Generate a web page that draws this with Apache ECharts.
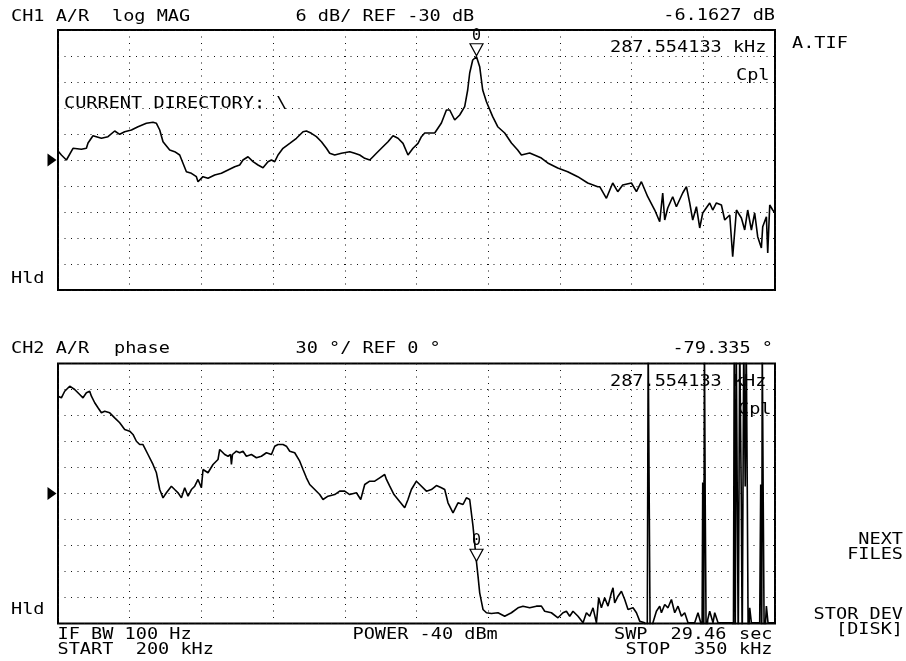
<!DOCTYPE html>
<html>
<head>
<meta charset="utf-8">
<script src="https://cdn.jsdelivr.net/npm/echarts@6/dist/echarts.min.js"></script>
<style>
  html, body { margin: 0; padding: 0; background: #fff; }
  #chart { width: 906px; height: 661px; }
</style>
</head>
<body>
<div id="chart"></div>
<script>
// Sweep: 200 kHz .. 350 kHz, 10 divisions
const startKHz = 200;
const stopKHz = 350;
const divKHz = 15;

// CH1: log magnitude, 6 dB/div, REF -30 dB (10 divisions)
const magRef = -30;
const magScale = 6;
// CH2: phase, 30 deg/div, REF 0 deg
const phaseRef = 0;
const phaseScale = 30;

// Marker 0
const markerKHz = 287.554133;
const markerDb = -6.1627;
const markerDeg = -79.335;

// CH1 trace (kHz, dB)
const magFreq = [200.0,200.71,201.76,203.14,204.90,205.94,206.28,207.32,209.08,210.46,211.86,212.91,213.95,215.36,216.74,218.49,219.87,220.59,221.28,221.97,223.37,224.41,225.46,226.15,226.86,227.91,228.95,229.29,230.33,231.38,232.78,234.18,235.57,236.97,238.01,238.70,239.75,240.80,241.84,242.89,243.93,244.65,245.34,246.03,247.07,248.48,249.88,251.26,251.97,253.01,254.06,255.11,256.15,256.84,257.89,259.29,261.03,262.07,263.12,264.17,265.21,265.90,266.61,267.66,269.04,270.09,271.13,272.18,273.22,274.27,275.32,276.03,276.72,278.81,280.21,281.26,281.95,282.99,284.04,285.08,285.71,286.13,286.76,287.554133,288.22,288.85,289.63,290.94,291.99,293.45,294.86,296.17,296.95,298.68,301.13,302.45,304.54,306.63,308.73,310.82,312.91,313.33,314.73,316.05,317.10,318.14,319.96,321.01,322.05,323.37,324.84,325.88,326.51,326.93,327.56,328.60,329.37,330.69,331.47,332.16,332.79,333.56,334.25,334.88,336.34,336.97,337.74,338.79,339.48,340.53,341.15,341.93,342.97,343.66,344.29,345.06,345.75,346.38,347.15,347.43,348.20,348.48,348.90,349.52,350.0];
const magDb = [-27.92,-28.85,-30.0,-27.3,-27.53,-27.3,-26.08,-24.39,-24.99,-24.62,-23.31,-24.07,-23.47,-23.08,-22.32,-21.53,-21.3,-21.53,-23.08,-25.78,-27.69,-28.08,-28.85,-30.76,-32.7,-33.07,-33.85,-35.01,-33.85,-34.22,-33.46,-33.07,-32.31,-31.55,-31.15,-30.0,-29.24,-30.39,-31.15,-31.78,-30.39,-30.0,-30.39,-28.85,-27.3,-26.15,-24.99,-23.47,-23.31,-23.84,-24.62,-25.78,-27.3,-28.45,-28.85,-28.45,-28.08,-28.45,-28.85,-29.61,-30.0,-29.24,-28.45,-27.3,-25.78,-24.39,-24.99,-26.15,-28.85,-27.3,-26.15,-24.62,-23.77,-23.77,-21.46,-18.46,-18.46,-20.77,-19.62,-17.7,-13.85,-9.92,-6.92,-6.1627,-8.47,-13.85,-16.55,-20.0,-22.32,-23.77,-26.08,-27.69,-28.85,-28.38,-29.54,-30.69,-31.85,-32.7,-33.85,-35.31,-36.16,-36.16,-38.84,-35.31,-37.32,-35.77,-35.31,-37.32,-35.01,-38.47,-41.54,-44.24,-37.62,-43.85,-41.08,-38.47,-40.78,-37.62,-36.16,-39.92,-43.85,-40.78,-45.69,-42.23,-39.92,-41.54,-39.92,-40.38,-43.85,-42.69,-52.32,-41.54,-43.38,-46.15,-41.54,-46.15,-42.23,-47.7,-50.31,-45.39,-43.08,-51.46,-40.38,-41.54,-42.23];

// CH2 trace (kHz, deg); values past +/-150 run off the display
const phaseFreq = [200.0,200.71,201.40,202.45,203.49,204.54,205.23,205.94,206.63,206.99,207.68,208.37,209.08,209.77,210.82,211.86,212.91,213.95,215.00,215.69,216.40,217.09,217.78,218.83,219.87,220.59,221.28,221.97,222.68,223.72,224.41,225.11,225.82,226.51,227.20,227.91,228.60,229.29,230.00,230.34,231.38,232.43,233.47,233.83,234.88,235.57,236.10,236.28,236.50,237.32,238.01,238.70,239.41,240.46,241.51,242.55,243.60,244.65,245.34,246.03,247.07,247.78,248.48,249.52,250.57,251.26,251.97,252.66,253.71,254.75,255.44,256.49,257.89,258.93,259.98,261.03,262.43,263.33,264.17,265.21,266.26,267.30,268.35,268.71,269.40,270.29,271.13,272.53,273.22,273.93,274.98,275.67,277.07,278.12,279.17,280.21,280.90,281.59,282.64,283.68,284.73,285.44,286.13,286.82,287.554133,287.87,288.22,288.91,289.63,290.67,292.05,293.45,294.86,296.24,297.28,298.68,300.08,301.13,301.82,303.22,304.60,305.65,306.36,307.05,307.74,308.79,309.84,310.55,311.24,311.93,312.64,313.12,313.68,314.37,315.06,315.77,316.11,316.46,317.16,317.87,318.56,319.25,320.30,321.01,321.70,322.74,323.27,323.47,323.68,323.89,324.48,325.19,325.88,326.24,326.93,327.62,328.33,328.66,329.02,329.71,330.42,331.11,331.80,333.20,333.89,334.46,334.73,334.88,335.09,335.24,335.40,335.61,335.93,336.34,337.03,337.39,338.08,341.15,341.30,341.47,341.68,341.89,342.10,342.31,342.62,342.94,343.14,343.46,343.77,343.98,344.19,344.40,344.71,345.06,346.80,347.01,347.22,347.33,347.54,347.75,348.20,348.54,350.0];
const phaseDeg = [112.3,110.4,118.0,123.8,120.0,114.2,110.4,116.2,118.0,112.3,104.7,98.9,93.1,95.0,93.1,87.3,81.6,73.8,71.9,68.1,60.3,56.5,56.5,45.0,33.5,23.9,4.6,-5.0,0.8,8.4,4.6,0.8,-5.0,6.6,-3.1,4.6,8.4,16.2,6.6,27.7,23.9,33.5,39.2,50.8,45.0,43.0,45.0,33.5,45.0,48.8,47.0,48.8,43.0,45.0,41.2,43.0,47.0,45.0,54.6,56.5,56.5,54.6,48.8,47.0,37.3,27.7,18.1,10.4,4.6,-1.2,-6.9,-3.1,-1.2,2.7,2.7,-1.2,0.8,-6.9,10.4,14.2,14.2,18.1,21.9,16.2,8.4,-1.2,-6.9,-16.5,-6.9,4.6,14.2,10.4,2.7,4.6,9.2,6.6,4.6,-10.7,-22.3,-10.7,-12.7,-5.0,-6.9,-37.7,-79.335,-95.4,-114.6,-133.8,-137.6,-138.5,-137.6,-141.6,-137.6,-131.9,-130.0,-131.9,-130.0,-130.0,-135.8,-137.6,-143.4,-137.6,-135.8,-141.6,-135.8,-141.6,-149.2,-137.6,-141.6,-131.9,-149.2,-120.3,-131.9,-120.3,-130.0,-114.6,-108.8,-126.1,-118.5,-112.8,-122.3,-133.8,-131.9,-137.6,-147.3,-149.2,-176,177,-3.5,-177,-148.8,-135.8,-130.0,-137.6,-128.1,-131.9,-122.3,-120.3,-137.6,-130.0,-141.6,-137.6,-149.2,-149.2,-137.6,-149.2,-177,12.7,-175,177,-8.9,-178,-145.4,-135.8,-149.2,-137.6,-149.2,-149.2,-178,178,-176,177,4.6,-177,178,-1.2,-178,176,8.1,179,12.7,-177,-131.9,-149.2,-149.2,10.4,-177,178,-10.4,-177,-130.0,-149.2,-149.2];

// Annotation texts
const ch1Title = 'CH1 A/R';
const ch1Format = 'log MAG';
const ch1ScaleText = '6 dB/ REF -30 dB';
const ch1Readout = '-6.1627 dB';
const ch2Title = 'CH2 A/R';
const ch2Format = 'phase';
const ch2ScaleText = '30 °/ REF 0 °';
const ch2Readout = '-79.335 °';
const markerFreqText = '287.554133 kHz';

const zip = (a, b) => a.map((v, i) => [v, b[i]]);

const FONT_FAMILY = '"DejaVu Sans Mono", "Liberation Mono", monospace';
const FONT = '16px ' + FONT_FAMILY;
const SX = 1.16;

function txt(s, x, capTop, align) {
  return {
    type: 'text', x: x, y: capTop - 1.5, scaleX: SX, z: 1,
    style: { text: s, font: FONT, fill: '#000', align: align || 'left', verticalAlign: 'top' }
  };
}

const dotted = { color: '#111', width: 1, type: [1, 5.5] };

function dataX(gi) {
  return { type: 'value', gridIndex: gi, min: startKHz, max: stopKHz,
    axisLine: { show: false }, axisTick: { show: false }, axisLabel: { show: false }, splitLine: { show: false } };
}
function divX(gi) {
  return { type: 'value', gridIndex: gi, min: 0, max: stopKHz - startKHz, interval: divKHz,
    axisLine: { show: false }, axisTick: { show: false }, axisLabel: { show: false },
    splitLine: { show: true, lineStyle: dotted } };
}
function yAx(gi, ref, scale) {
  return { type: 'value', gridIndex: gi, min: ref - 5 * scale, max: ref + 5 * scale, interval: scale,
    axisLine: { show: false }, axisTick: { show: false }, axisLabel: { show: false },
    splitLine: { show: true, lineStyle: dotted } };
}

const markerTriangle = {
  symbol: 'path://M0,0L14,0L7,12Z', symbolSize: [13, 12], symbolOffset: [0, -7],
  itemStyle: { color: '#fff', borderColor: '#000', borderWidth: 1.2 },
  label: { show: true, formatter: '0', position: 'top', distance: 0, color: '#000',
           fontFamily: FONT_FAMILY, fontSize: 15 }
};
const refArrow = {
  symbol: 'triangle', symbolRotate: -90, symbolSize: [13, 9], symbolOffset: [-6, 0],
  itemStyle: { color: '#000' }, label: { show: false }
};

const chart = echarts.init(document.getElementById('chart'), null, { renderer: 'canvas' });
chart.setOption({
  animation: false,
  backgroundColor: '#fff',
  grid: [
    { left: 58, top: 30, width: 717, height: 260, show: true, borderColor: '#000', borderWidth: 2, backgroundColor: 'transparent' },
    { left: 58, top: 363.5, width: 717, height: 260, show: true, borderColor: '#000', borderWidth: 2, backgroundColor: 'transparent' }
  ],
  xAxis: [dataX(0), divX(0), dataX(1), divX(1)],
  yAxis: [yAx(0, magRef, magScale), yAx(1, phaseRef, phaseScale)],
  series: [
    {
      type: 'line', xAxisIndex: 0, yAxisIndex: 0, data: zip(magFreq, magDb),
      showSymbol: false, clip: true, lineStyle: { color: '#000', width: 1.6 }, z: 3,
      markPoint: {
        animation: false,
        data: [
          Object.assign({ coord: [markerKHz, markerDb] }, markerTriangle),
          Object.assign({ coord: [startKHz, magRef] }, refArrow)
        ]
      }
    },
    {
      type: 'line', xAxisIndex: 2, yAxisIndex: 1, data: zip(phaseFreq, phaseDeg),
      showSymbol: false, clip: true, lineStyle: { color: '#000', width: 1.6 }, z: 3,
      markPoint: {
        animation: false,
        data: [
          Object.assign({ coord: [markerKHz, markerDeg] }, markerTriangle),
          Object.assign({ coord: [startKHz, phaseRef] }, refArrow)
        ]
      }
    }
  ],
  graphic: {
    elements: [
      txt(ch1Title, 11, 10),
      txt(ch1Format, 112, 10),
      txt(ch1ScaleText, 295.5, 10),
      txt(ch1Readout, 775, 9.5, 'right'),
      txt(markerFreqText, 610, 41),
      txt('Cpl', 736, 69),
      txt('A.TIF', 792, 37),
      txt('CURRENT DIRECTORY: \\', 64, 97),
      txt('Hld', 11, 272),

      txt(ch2Title, 11, 342),
      txt(ch2Format, 114, 342),
      txt(ch2ScaleText, 295.5, 342),
      txt(ch2Readout, 773, 342, 'right'),
      txt(markerFreqText, 610, 375),
      txt('Cpl', 738, 403),
      txt('Hld', 11, 603),

      txt('IF BW 100 Hz', 57.5, 628),
      txt('START  200 kHz', 57.5, 643.5),
      txt('POWER -40 dBm', 352.5, 628),
      txt('SWP', 614, 628),
      txt('29.46', 670.5, 628),
      txt('sec', 739, 628),
      txt('STOP', 625.5, 643.5),
      txt('350', 694, 643.5),
      txt('kHz', 739, 643.5),

      txt('NEXT', 903, 533, 'right'),
      txt('FILES', 903, 548, 'right'),
      txt('STOR DEV', 903, 608.5, 'right'),
      txt('[DISK]', 903, 623.5, 'right')
    ]
  }
});
</script>
</body>
</html>
